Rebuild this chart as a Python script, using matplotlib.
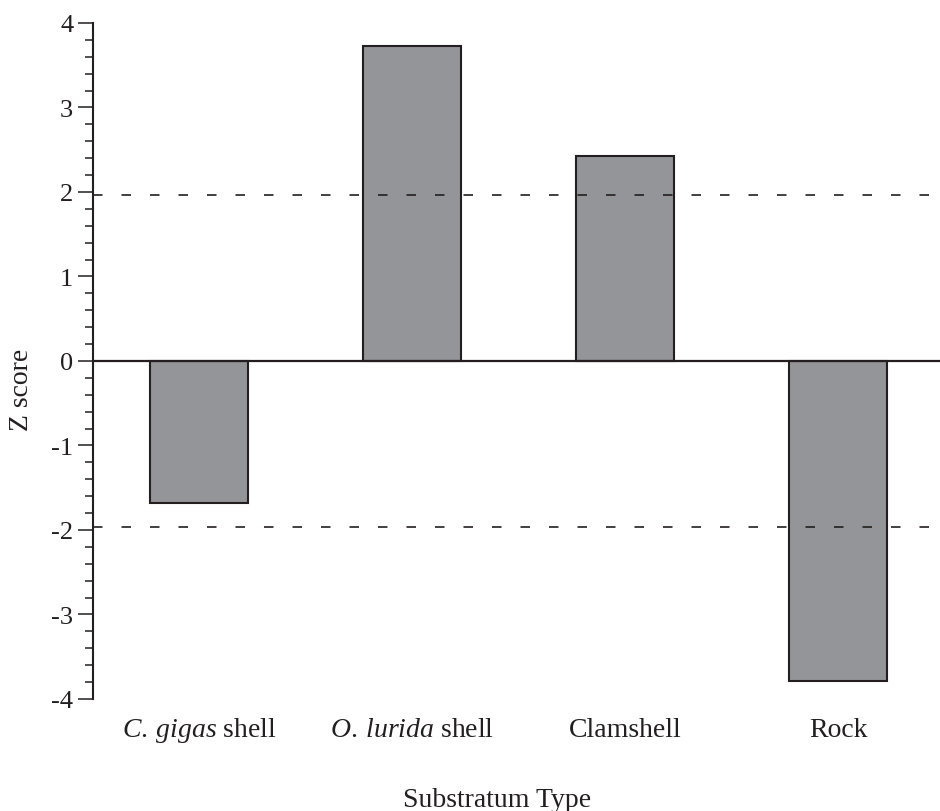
import matplotlib
matplotlib.use("Agg")
import matplotlib.pyplot as plt
from matplotlib.ticker import MultipleLocator

plt.rcParams["font.family"] = ["Liberation Serif", "DejaVu Serif"]
plt.rcParams["mathtext.fontset"] = "custom"
plt.rcParams["mathtext.rm"] = "Liberation Serif"
plt.rcParams["mathtext.it"] = "Liberation Serif:italic"
plt.rcParams["axes.unicode_minus"] = False

# Z scores by substratum type
substrata = [
    r"$\it{C.\:gigas}$ shell",
    r"$\it{O.\:lurida}$ shell",
    "Clamshell",
    "Rock",
]
z_scores = [-1.68, 3.73, 2.43, -3.79]
critical_z = 1.96

bar_color = "#939598"
ink = "#231f20"

fig = plt.figure(figsize=(9.4, 8.12), dpi=100)
ax = fig.add_axes([0.0986, 0.138, 0.9014, 0.8325])

x = list(range(len(substrata)))
ax.bar(x, z_scores, width=0.46, color=bar_color, edgecolor=ink, linewidth=1.5, zorder=2)

# Zero line and significance thresholds (dashes run over the bars)
ax.axhline(0, color=ink, linewidth=1.6, zorder=3)
for level in (critical_z, -critical_z):
    ax.axhline(level, color=ink, linewidth=1.2, linestyle=(0, (5.7, 11.4)), zorder=4)

ax.set_xlim(-0.5, 3.478)
ax.set_ylim(-4, 4)
ax.yaxis.set_major_locator(MultipleLocator(1))
ax.yaxis.set_minor_locator(MultipleLocator(0.2))

for side in ("top", "right", "bottom"):
    ax.spines[side].set_visible(False)
ax.spines["left"].set_linewidth(1.5)
ax.spines["left"].set_color(ink)

ax.tick_params(axis="y", which="major", length=11, width=1.1, pad=3,
               labelsize=19, colors=ink)
ax.tick_params(axis="y", which="minor", length=5.8, width=1.1, colors=ink)
ax.set_xticks(x)
ax.set_xticklabels(substrata)
ax.tick_params(axis="x", length=0, pad=27, labelsize=20, colors=ink)
# keep the italic labels on the same baseline as the plain ones
for lbl in ax.get_xticklabels():
    lbl.set_verticalalignment("baseline")

fig.text(22 / 940, 1 - 390 / 812, "Z score", rotation=90, ha="center",
         va="center", fontsize=20, color=ink)
fig.text(497 / 940, 1 - 807 / 812, "Substratum Type", ha="center",
         va="baseline", fontsize=20, color=ink)

fig.savefig("out.png", dpi=100)
